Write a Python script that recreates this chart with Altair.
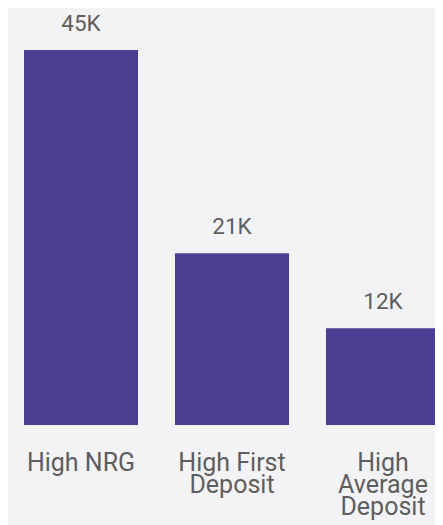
import altair as alt
import pandas as pd

categories = ["High NRG", "High First\nDeposit", "High\nAverage\nDeposit"]
values = [45000, 20600, 11600]

df = pd.DataFrame({"category": categories, "value": values})

FONT = "Roboto"
TEXT_COLOR = "#5e5e5e"
BAR_COLOR = "#4b3d92"

base = alt.Chart(df).encode(
    x=alt.X(
        "category:N",
        sort=categories,
        title=None,
        scale=alt.Scale(paddingInner=0.245, paddingOuter=0),
        axis=alt.Axis(
            labelAngle=0,
            domain=False,
            ticks=False,
            labelFontSize=25,
            labelFont=FONT,
            labelColor=TEXT_COLOR,
            labelPadding=25,
            labelLineHeight=22,
            labelExpr="split(datum.label, '\\n')",
        ),
    ),
    y=alt.Y(
        "value:Q",
        title=None,
        scale=alt.Scale(domain=[0, 45000], nice=False, zero=True),
        axis=None,
    ),
)

bars = base.mark_bar(color=BAR_COLOR)

labels = base.transform_calculate(
    lbl="replace(format(datum.value, '.2s'), 'k', 'K')"
).mark_text(
    baseline="alphabetic",
    dy=-19,
    fontSize=22.5,
    font=FONT,
    color=TEXT_COLOR,
).encode(text="lbl:N")

chart = (
    alt.layer(bars, labels)
    .properties(
        width=416,
        height=375,
        background="#f3f3f5",
        padding={"left": 16, "top": 42, "right": -5, "bottom": 110},
        autosize=alt.AutoSizeParams(type="none"),
    )
    .configure_view(stroke=None)
)

chart.save("out.html", embed_options={"renderer": "svg", "actions": False})
